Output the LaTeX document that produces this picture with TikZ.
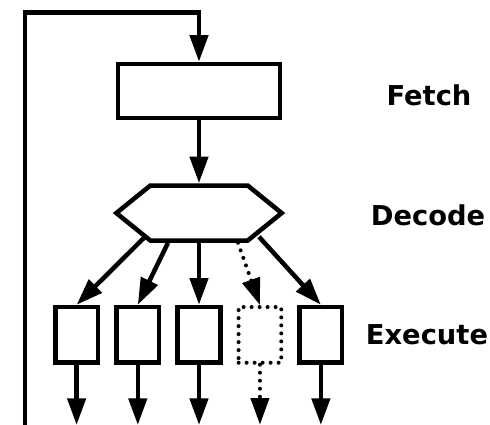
\documentclass[tikz,border=0pt]{standalone}
\usepackage{fontspec}
\setmainfont{DejaVu Sans}
\usetikzlibrary{calc,positioning,arrows.meta,shapes.symbols}

\tikzset{
  stage/.style={draw=black, line width=3.4pt, rectangle, inner sep=0pt},
  unit/.style={stage, minimum width=32pt, minimum height=41.75pt},
  flow/.style={line width=3.4pt, -{Triangle[length=20pt, width=13.5pt]}},
  dots/.style={line width=3pt, line cap=round, dash pattern=on 0pt off 6pt},
  tag/.style={font=\bfseries\fontsize{20.5}{24}\selectfont},
}

\begin{document}
\begin{tikzpicture}
  \useasboundingbox (0,0) rectangle (367.5pt,-318.75pt);
  % stages
  \node[stage, minimum width=121.5pt, minimum height=40.5pt](fetch) at (149.25pt,-68.25pt){};
  \node[stage, signal, signal to=east and west, signal pointer angle=78, minimum width=124pt, minimum height=41.25pt, below=47.25pt of fetch](dec){};
  \node[unit, below=46.5pt of dec](e3){};
  \node[unit, left=10.5pt of e3](e2){};
  \node[unit, left=10.5pt of e2](e1){};
  \node[unit, dots, right=10.5pt of e3](e4){};
  \node[unit, right=10.5pt of e4](e5){};

  \node[tag](lfetch) at (321.75pt,-71.25pt){Fetch};
  \node[tag](ldec) at (321pt,-161.25pt){Decode};
  \node[tag](lexe) at (320.25pt,-251.25pt){Execute};

  % loose ends
  \coordinate(back) at (18.75pt,-318.75pt);
  \foreach \i in {1,...,5}
    \coordinate[below=45pt of e\i](o\i);

  \draw[flow] (back) |- ([yshift=36.75pt]fetch.north) -- (fetch.north);
  \draw[flow] (fetch) -- (dec);
  \draw[flow] ([shift={(-41.25pt,3.75pt)}]dec.south) -- (e1.north);
  \draw[flow] ([xshift=-23.25pt]dec.south) -- (e2.north);
  \draw[flow] (dec.south) -- (e3.north);
  \draw[flow, dots] ([xshift=29.25pt]dec.south) -- (e4.north);
  \draw[flow] ([shift={(45pt,4.5pt)}]dec.south) -- (e5.north);
  \foreach \i in {1,2,3,5}
    \draw[flow] (e\i) -- (o\i);
  \draw[flow, dots] (e4) -- (o4);
\end{tikzpicture}
\end{document}
